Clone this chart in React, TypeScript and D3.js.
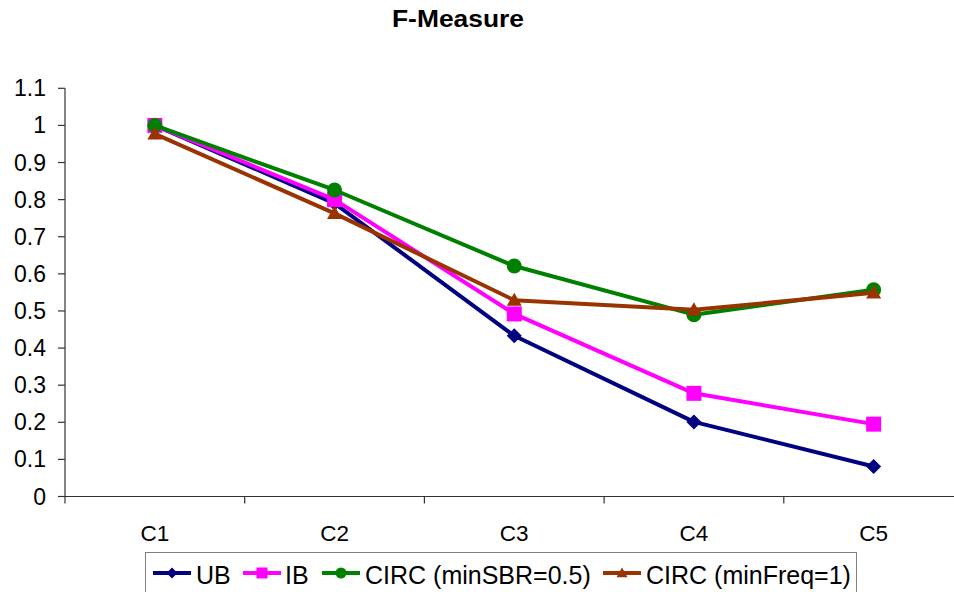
import React from "react";
import * as d3 from "d3";

const categories = ["C1", "C2", "C3", "C4", "C5"];
const yTicks = [0, 0.1, 0.2, 0.3, 0.4, 0.5, 0.6, 0.7, 0.8, 0.9, 1, 1.1];
const seriesNames = ["UB", "IB", "CIRC (minSBR=0.5)", "CIRC (minFreq=1)"];
const ubValues = [1.0, 0.79, 0.433, 0.201, 0.081];
const ibValues = [1.0, 0.8, 0.492, 0.278, 0.195];
const sbrValues = [1.0, 0.826, 0.621, 0.49, 0.557];
const freqValues = [0.977, 0.763, 0.529, 0.503, 0.549];
const colors = ["#000080", "#FF00FF", "#008000", "#993300"];
const shapes = ["diamond", "square", "circle", "triangle"];

const W = 954;
const H = 592;

function Marker({ shape, x, y, size, color }: { shape: string; x: number; y: number; size: number; color: string }) {
  const h = size / 2;
  if (shape === "diamond") {
    return <path d={`M${x},${y - h} L${x + h},${y} L${x},${y + h} L${x - h},${y} Z`} fill={color} />;
  }
  if (shape === "square") {
    return <rect x={x - h} y={y - h} width={size} height={size} fill={color} />;
  }
  if (shape === "circle") {
    return <circle cx={x} cy={y} r={h} fill={color} />;
  }
  return <path d={`M${x},${y - h} L${x + h},${y + h * 0.75} L${x - h},${y + h * 0.75} Z`} fill={color} />;
}

export default function App() {
  const x = d3.scaleBand<string>().domain(categories).range([65, 963.5]).padding(0);
  const y = d3.scaleLinear().domain([0, 1.1]).range([496.5, 88.3]);
  const cx = (c: string) => (x(c) as number) + x.bandwidth() / 2;
  const allSeries = [ubValues, ibValues, sbrValues, freqValues];
  const line = d3
    .line<number>()
    .x((_, i) => cx(categories[i]))
    .y((d) => y(d));
  const font = "'Liberation Sans', Arial, sans-serif";
  const xTickPositions = [...categories.map((c) => x(c) as number), 963.5];

  const legendItems = [
    { lx: 153, tx: 196 },
    { lx: 243, tx: 285 },
    { lx: 322, tx: 365 },
    { lx: 603, tx: 646 },
  ];

  return (
    <svg width={W} height={H} style={{ position: "absolute", left: 0, top: 0, background: "#fff" }} fontFamily={font}>
      <rect x={0} y={0} width={W} height={H} fill="#fff" />
      <text x={458} y={27} textAnchor="middle" fontSize={23} fontWeight="bold" textLength={132} lengthAdjust="spacingAndGlyphs">
        F-Measure
      </text>
      {/* y axis */}
      <line x1={65} x2={65} y1={y(1.1)} y2={y(0)} stroke="#333" strokeWidth={1.2} />
      {yTicks.map((t) => (
        <g key={t}>
          <line x1={58} x2={65} y1={y(t)} y2={y(t)} stroke="#333" strokeWidth={1.2} />
          <text x={46} y={y(t) + 8} textAnchor="end" fontSize={23}>
            {String(t)}
          </text>
        </g>
      ))}
      {/* x axis */}
      <line x1={65} x2={W} y1={y(0)} y2={y(0)} stroke="#333" strokeWidth={1.2} />
      {xTickPositions.map((p, i) => (
        <line key={i} x1={p} x2={p} y1={y(0)} y2={y(0) + 7} stroke="#333" strokeWidth={1.2} />
      ))}
      {categories.map((c) => (
        <text key={c} x={cx(c)} y={541} textAnchor="middle" fontSize={22.5}>
          {c}
        </text>
      ))}
      {/* series */}
      {allSeries.map((vals, si) => (
        <g key={si}>
          <path d={line(vals) as string} fill="none" stroke={colors[si]} strokeWidth={4} strokeLinejoin="round" />
          {vals.map((v, i) => (
            <Marker key={i} shape={shapes[si]} x={cx(categories[i])} y={y(v)} size={15} color={colors[si]} />
          ))}
        </g>
      ))}
      {/* legend */}
      <rect x={145.5} y={552.5} width={711} height={60} fill="#fff" stroke="#808080" strokeWidth={1} />
      {legendItems.map((it, i) => (
        <g key={i}>
          <line x1={it.lx} x2={it.lx + 38} y1={573} y2={573} stroke={colors[i]} strokeWidth={4} />
          <Marker shape={shapes[i]} x={it.lx + 19} y={573} size={11} color={colors[i]} />
          <text x={it.tx} y={583.5} fontSize={25}>
            {seriesNames[i]}
          </text>
        </g>
      ))}
    </svg>
  );
}
